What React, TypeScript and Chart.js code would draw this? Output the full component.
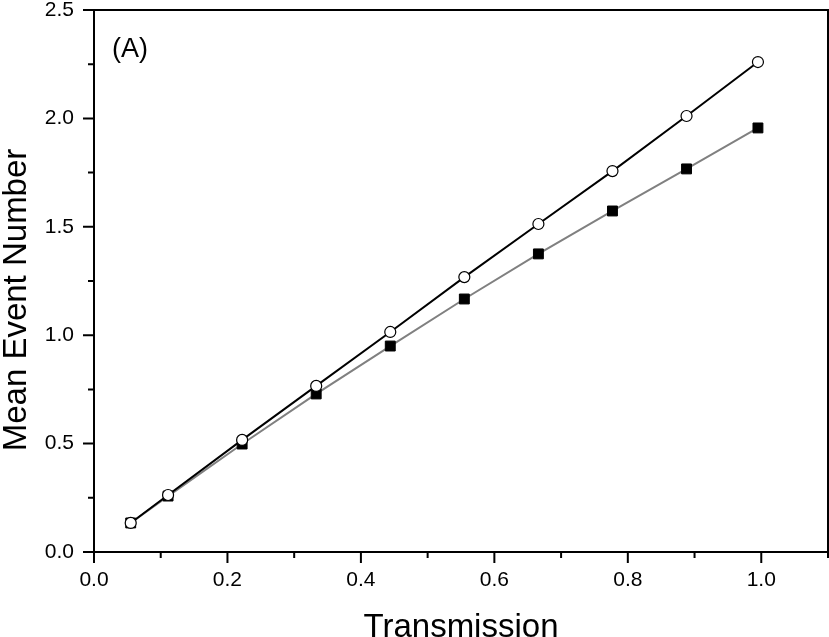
import React, { useEffect, useRef } from "react";
import { Chart, registerables } from "chart.js";

Chart.register(...registerables);

const transmission = [0.055, 0.111, 0.222, 0.333, 0.444, 0.555, 0.666, 0.777, 0.888, 0.995];
const meanCircles = [0.134, 0.263, 0.517, 0.766, 1.015, 1.268, 1.513, 1.757, 2.011, 2.26];
const meanSquares = [0.134, 0.258, 0.498, 0.729, 0.95, 1.167, 1.375, 1.573, 1.767, 1.956];

const xMajorTicks = [0, 0.2, 0.4, 0.6, 0.8, 1.0];
const xMinorTicks = [0.1, 0.3, 0.5, 0.7, 0.9, 1.1];
const yMajorTicks = [0, 0.5, 1.0, 1.5, 2.0, 2.5];
const yMinorTicks = [0.25, 0.75, 1.25, 1.75, 2.25];

const xTitle = "Transmission";
const yTitle = "Mean Event Number";
const panelLabel = "(A)";

const FONT = "'Liberation Sans', Arial, sans-serif";

const framePlugin = {
  id: "frameAndTicks",
  afterDraw(chart: any) {
    const { ctx, chartArea } = chart;
    const xs = chart.scales.x;
    const ys = chart.scales.y;
    const { left, right, top, bottom } = chartArea;
    ctx.save();
    ctx.strokeStyle = "#000";
    ctx.lineWidth = 2;
    ctx.beginPath();
    ctx.rect(left, top, right - left, bottom - top);
    ctx.stroke();
    ctx.beginPath();
    xMajorTicks.forEach((v) => {
      const px = xs.getPixelForValue(v);
      ctx.moveTo(px, bottom);
      ctx.lineTo(px, bottom + 11);
    });
    xMinorTicks.forEach((v) => {
      const px = xs.getPixelForValue(v);
      ctx.moveTo(px, bottom);
      ctx.lineTo(px, bottom + 6);
    });
    yMajorTicks.forEach((v) => {
      const py = ys.getPixelForValue(v);
      ctx.moveTo(left, py);
      ctx.lineTo(left - 11, py);
    });
    yMinorTicks.forEach((v) => {
      const py = ys.getPixelForValue(v);
      ctx.moveTo(left, py);
      ctx.lineTo(left - 6, py);
    });
    ctx.stroke();

    ctx.fillStyle = "#000";
    ctx.font = `33px ${FONT}`;
    ctx.textAlign = "center";
    ctx.textBaseline = "alphabetic";
    ctx.fillText(xTitle, (left + right) / 2, 637);

    ctx.save();
    ctx.translate(26, 300);
    ctx.rotate(-Math.PI / 2);
    ctx.fillText(yTitle, 0, 0);
    ctx.restore();

    ctx.font = `27px ${FONT}`;
    ctx.textAlign = "left";
    ctx.fillText(panelLabel, 112, 57);
    ctx.restore();
  },
};

export default function App() {
  const ref = useRef<HTMLCanvasElement | null>(null);
  useEffect(() => {
    document.body.style.margin = "0";
    const canvas = ref.current;
    if (!canvas) return;
    const chart = new Chart(canvas, {
      type: "scatter",
      data: {
        datasets: [
          {
            label: "circles",
            data: transmission.map((x, i) => ({ x, y: meanCircles[i] })),
            showLine: true,
            borderColor: "#000",
            borderWidth: 2,
            pointStyle: "circle",
            pointRadius: 5.5,
            pointBorderWidth: 1.2,
            pointBorderColor: "#000",
            pointBackgroundColor: "#fff",
          },
          {
            label: "squares",
            data: transmission.map((x, i) => ({ x, y: meanSquares[i] })),
            showLine: true,
            borderColor: "#808080",
            borderWidth: 2,
            pointStyle: "rect",
            pointRadius: 7,
            pointBorderWidth: 1,
            pointBorderColor: "#000",
            pointBackgroundColor: "#000",
          },
        ],
      },
      options: {
        animation: false,
        responsive: false,
        maintainAspectRatio: false,
        devicePixelRatio: 1,
        layout: { autoPadding: false, padding: { top: 10, right: 1, left: 0, bottom: 0 } },
        plugins: { legend: { display: false }, tooltip: { enabled: false } },
        scales: {
          x: {
            type: "linear",
            min: 0,
            max: 1.1,
            grid: { display: false, drawTicks: false },
            border: { display: false },
            ticks: {
              stepSize: 0.2,
              padding: 16,
              color: "#000",
              font: { family: FONT, size: 21 },
              callback: (v: any) => (v > 1.05 ? "" : Number(v).toFixed(1)),
            },
            afterFit: (s: any) => {
              s.height = 85;
              s.paddingLeft = 0;
              s.paddingRight = 0;
            },
          },
          y: {
            type: "linear",
            min: 0,
            max: 2.5,
            grid: { display: false, drawTicks: false },
            border: { display: false },
            ticks: {
              stepSize: 0.5,
              padding: 20,
              color: "#000",
              font: { family: FONT, size: 21 },
              callback: (v: any) => Number(v).toFixed(1),
            },
            afterFit: (s: any) => {
              s.width = 94;
              s.paddingTop = 0;
              s.paddingBottom = 0;
            },
          },
        },
      },
      plugins: [framePlugin],
    } as any);
    return () => chart.destroy();
  }, []);
  return (
    <div style={{ position: "fixed", left: 0, top: 0, width: 829, height: 637, background: "#fff" }}>
      <canvas ref={ref} width={829} height={637} style={{ display: "block", width: 829, height: 637 }} />
    </div>
  );
}
